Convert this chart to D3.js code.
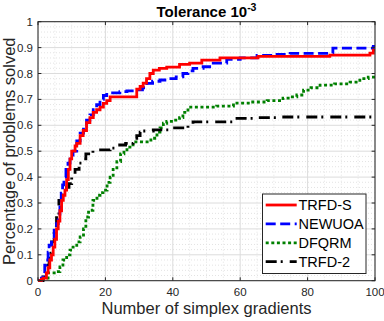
<!DOCTYPE html>
<html>
<head>
<meta charset="utf-8">
<script src="https://cdn.jsdelivr.net/npm/d3@7"></script>
<style>
  body { margin: 0; background: #fff; }
  svg { font-family: "Liberation Sans", Arial, sans-serif; }
</style>
</head>
<body>
<svg id="chart" width="384" height="321"></svg>
<script>
// data
var xTicks = [0, 20, 40, 60, 80, 100];
var yTicks = [0, 0.1, 0.2, 0.3, 0.4, 0.5, 0.6, 0.7, 0.8, 0.9, 1];

var trfdsX = [0, 1, 1.5, 2.5, 3, 3.5, 4, 4.5, 5, 5.5, 6, 6.5, 7, 7.5, 8, 8.5, 9, 9.5, 10, 11, 11.5, 12.5, 13.4, 14.4, 15.4, 16.4, 17.4, 18.4, 19.4, 20.4, 21.4, 29.3, 30.3, 31.2, 32.2, 33.2, 34.2, 36, 38.2, 42, 45, 48.6, 54, 65.3, 86.6, 98.5, 99.5, 100];
var trfdsY = [0, 0.005, 0.01, 0.03, 0.05, 0.08, 0.1, 0.13, 0.16, 0.2, 0.23, 0.27, 0.31, 0.33, 0.35, 0.39, 0.43, 0.47, 0.5, 0.52, 0.53, 0.56, 0.58, 0.61, 0.63, 0.65, 0.66, 0.67, 0.685, 0.695, 0.71, 0.74, 0.75, 0.763, 0.78, 0.8, 0.813, 0.82, 0.825, 0.835, 0.84, 0.852, 0.86, 0.866, 0.871, 0.879, 0.89, 0.89];

var newuoaX = [0, 1, 1.5, 2, 2.4, 3, 3.3, 4, 4.8, 5.5, 6, 6.5, 6.9, 7.3, 7.7, 8.3, 8.9, 9.5, 10.4, 11.5, 12.5, 13.5, 14.4, 15.4, 16.4, 17.4, 18.4, 19.4, 20.4, 24.3, 26.4, 29.3, 31, 32.3, 34, 36.2, 39, 41, 43, 44.5, 46, 49, 52, 56, 60, 65, 70, 74.8, 87.5, 99.5, 100];
var newuoaY = [0, 0.01, 0.03, 0.06, 0.08, 0.11, 0.137, 0.16, 0.195, 0.22, 0.246, 0.29, 0.338, 0.37, 0.4, 0.43, 0.454, 0.485, 0.5, 0.54, 0.57, 0.6, 0.62, 0.64, 0.66, 0.68, 0.7, 0.715, 0.725, 0.73, 0.733, 0.737, 0.745, 0.762, 0.77, 0.775, 0.78, 0.787, 0.8, 0.81, 0.82, 0.826, 0.84, 0.855, 0.86, 0.87, 0.874, 0.878, 0.898, 0.905, 0.905];

var dfqrmX = [0, 1.5, 3, 5.3, 6.5, 7.4, 8.5, 9.5, 10.4, 11.5, 12.5, 13.5, 14.2, 15, 16.3, 17.5, 18.4, 19.3, 20.5, 21.4, 22.3, 23.4, 24.5, 25.5, 26.4, 28.2, 32.3, 33.5, 35.3, 36.2, 37.2, 38.2, 40.1, 42, 43, 44.5, 53, 58, 63, 68, 72.7, 75, 76.8, 78.8, 81, 83.7, 88, 92.6, 95.5, 98, 100];
var dfqrmY = [0, 0.01, 0.03, 0.035, 0.053, 0.08, 0.1, 0.118, 0.13, 0.15, 0.169, 0.2, 0.246, 0.272, 0.31, 0.33, 0.34, 0.35, 0.38, 0.4, 0.43, 0.46, 0.49, 0.505, 0.516, 0.536, 0.536, 0.55, 0.574, 0.59, 0.608, 0.615, 0.62, 0.63, 0.65, 0.67, 0.674, 0.686, 0.69, 0.695, 0.705, 0.71, 0.717, 0.736, 0.745, 0.755, 0.76, 0.767, 0.78, 0.786, 0.786];

var trfd2X = [0, 1.5, 2.5, 3.3, 4, 4.8, 5.5, 6.2, 7, 7.7, 8.5, 9.2, 10, 11, 12.2, 13.4, 14.2, 16.3, 21.4, 23.4, 26, 28.2, 29.3, 30.3, 31, 34.2, 39, 44.5, 46, 53, 58, 60.5, 65, 72.4, 100];
var trfd2Y = [0, 0.015, 0.06, 0.106, 0.15, 0.195, 0.25, 0.31, 0.325, 0.338, 0.36, 0.375, 0.4, 0.43, 0.454, 0.47, 0.49, 0.505, 0.512, 0.524, 0.53, 0.55, 0.56, 0.574, 0.578, 0.582, 0.59, 0.6, 0.613, 0.613, 0.627, 0.627, 0.63, 0.632, 0.632];

var seriesNames = ["TRFD-S", "NEWUOA", "DFQRM", "TRFD-2"];
var seriesColors = ["#ff0000", "#0000ff", "#008000", "#000000"];
var seriesDash = [null, "10,4.5", "3,2.6", "11,4,2,7"];

var svg = d3.select("#chart");
var plotL = 38, plotR = 375, plotT = 21.7, plotB = 280.7;
var axisColor = "#262626";

var x = d3.scaleLinear().domain([0, 100]).range([plotL, plotR]);
var y = d3.scaleLinear().domain([0, 1]).range([plotB, plotT]);

// minor grid (dotted)
var g = svg.append("g");
d3.range(0, 100.1, 5).forEach(function(v){
  if (v % 20 == 0) return;
  g.append("line").attr("x1", x(v)).attr("x2", x(v)).attr("y1", plotT).attr("y2", plotB)
    .style("stroke", "#e3e3e3").style("stroke-width", 1).style("stroke-dasharray", "1,2");
});
d3.range(0, 1.001, 0.02).forEach(function(v){
  if (Math.abs(v * 10 - Math.round(v * 10)) < 1e-6) return;
  g.append("line").attr("y1", y(v)).attr("y2", y(v)).attr("x1", plotL).attr("x2", plotR)
    .style("stroke", "#e3e3e3").style("stroke-width", 1).style("stroke-dasharray", "1,2");
});
// major grid
xTicks.forEach(function(v){
  g.append("line").attr("x1", x(v)).attr("x2", x(v)).attr("y1", plotT).attr("y2", plotB)
    .style("stroke", "#dcdcdc").style("stroke-width", 1);
});
yTicks.forEach(function(v){
  g.append("line").attr("y1", y(v)).attr("y2", y(v)).attr("x1", plotL).attr("x2", plotR)
    .style("stroke", "#dcdcdc").style("stroke-width", 1);
});

// curves (stairs)
var allX = [trfdsX, newuoaX, dfqrmX, trfd2X];
var allY = [trfdsY, newuoaY, dfqrmY, trfd2Y];
var line = d3.line().x(function(d){ return x(d[0]); }).y(function(d){ return y(d[1]); })
  .curve(d3.curveStepAfter);

var plot = svg.append("g");
[2, 3, 1, 0].forEach(function(i){
  var pts = allX[i].map(function(v, j){ return [v, allY[i][j]]; });
  plot.append("path").datum(pts).attr("d", line)
    .style("fill", "none")
    .style("stroke", seriesColors[i])
    .style("stroke-width", 2.8)
    .style("stroke-dasharray", seriesDash[i]);
});

// axes box with inward ticks
var ax = svg.append("g");
ax.append("rect").attr("x", plotL).attr("y", plotT).attr("width", plotR - plotL).attr("height", plotB - plotT)
  .style("fill", "none").style("stroke", axisColor).style("stroke-width", 1);

xTicks.forEach(function(v){
  ax.append("line").attr("x1", x(v)).attr("x2", x(v)).attr("y1", plotB).attr("y2", plotB - 3.4)
    .style("stroke", axisColor);
  ax.append("line").attr("x1", x(v)).attr("x2", x(v)).attr("y1", plotT).attr("y2", plotT + 3.4)
    .style("stroke", axisColor);
  ax.append("text").attr("x", x(v)).attr("y", plotB + 15).attr("text-anchor", "middle")
    .style("font-size", "11.5px").style("fill", axisColor).text(v);
});
yTicks.forEach(function(v){
  ax.append("line").attr("y1", y(v)).attr("y2", y(v)).attr("x1", plotL).attr("x2", plotL + 3.4)
    .style("stroke", axisColor);
  ax.append("line").attr("y1", y(v)).attr("y2", y(v)).attr("x1", plotR).attr("x2", plotR - 3.4)
    .style("stroke", axisColor);
  ax.append("text").attr("x", plotL - 5).attr("y", y(v) + 4).attr("text-anchor", "end")
    .style("font-size", "11.5px").style("fill", axisColor).text(d3.format("~g")(v));
});

// labels
svg.append("text").attr("x", (plotL + plotR) / 2).attr("y", 314).attr("text-anchor", "middle")
  .style("font-size", "16.5px").style("fill", axisColor).text("Number of simplex gradients");
svg.append("text").attr("transform", "translate(15," + ((plotT + plotB) / 2) + ") rotate(-90)")
  .attr("text-anchor", "middle")
  .style("font-size", "16.5px").style("fill", axisColor).text("Percentage of problems solved");

var title = svg.append("text").attr("x", (plotL + plotR) / 2).attr("y", 16.5).attr("text-anchor", "middle")
  .style("font-size", "15px").style("font-weight", "bold").style("fill", "#000");
title.append("tspan").text("Tolerance 10");
title.append("tspan").attr("dy", -5.5).style("font-size", "10.5px").text("-3");

// legend
var lg = svg.append("g");
lg.append("rect").attr("x", 262.5).attr("y", 194).attr("width", 103.5).attr("height", 79.5)
  .style("fill", "#fff").style("stroke", axisColor).style("stroke-width", 1);
seriesNames.forEach(function(name, i){
  var ly = 205 + i * 18.9;
  lg.append("line").attr("x1", 265.7).attr("x2", 296.7).attr("y1", ly).attr("y2", ly)
    .style("stroke", seriesColors[i]).style("stroke-width", 2.8)
    .style("stroke-dasharray", seriesDash[i]);
  lg.append("text").attr("x", 298.5).attr("y", ly + 5).style("font-size", "14.5px")
    .style("fill", "#000").text(name);
});
</script>
</body>
</html>
